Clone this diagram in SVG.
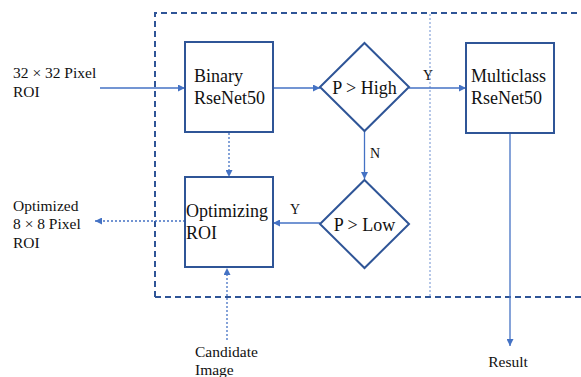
<svg xmlns="http://www.w3.org/2000/svg" width="581" height="377" viewBox="0 0 581 377">
<style>
.box{fill:#fff;stroke:#2F5597;stroke-width:2}
.t{font-family:"Liberation Serif","Times New Roman",serif;font-size:18px;fill:#111}
.s{font-family:"Liberation Serif","Times New Roman",serif;font-size:15.5px;fill:#111}
.yn{font-family:"Liberation Serif","Times New Roman",serif;font-size:14px;fill:#111}
.c{stroke:#4472C4;stroke-width:1.3;fill:none}
.d{stroke:#4472C4;stroke-width:1.3;fill:none;stroke-dasharray:2 2}
</style>
<defs>
<marker id="ah" viewBox="0 0 10 10" refX="10" refY="5" markerWidth="7" markerHeight="7" markerUnits="userSpaceOnUse" orient="auto">
<path d="M0,0 L10,5 L0,10 z" fill="#4472C4"/>
</marker>
</defs>
<rect width="581" height="377" fill="#fff"/>
<g id="frame">
<path d="M155,297 V13 H581" fill="none" stroke="#2F5597" stroke-width="2" stroke-dasharray="6 4"/>
<path d="M155,297 H581" fill="none" stroke="#2F5597" stroke-width="2" stroke-dasharray="6 4"/>
<line x1="430" y1="14" x2="430" y2="296" stroke="#8FAADC" stroke-width="1.3" stroke-dasharray="2 2"/>
</g>
<g id="connectors">
<line class="c" x1="100" y1="88" x2="185" y2="88" marker-end="url(#ah)"/>
<line class="c" x1="273" y1="88" x2="320" y2="88" marker-end="url(#ah)"/>
<line class="c" x1="409" y1="88" x2="466" y2="88" marker-end="url(#ah)"/>
<line class="c" x1="364.5" y1="131" x2="364.5" y2="179" marker-end="url(#ah)"/>
<line class="c" x1="320" y1="223" x2="273" y2="223" marker-end="url(#ah)"/>
<line class="d" x1="229" y1="133" x2="229" y2="177" marker-end="url(#ah)"/>
<line class="d" x1="185" y1="221" x2="95" y2="221" marker-end="url(#ah)"/>
<line class="d" x1="227" y1="340" x2="227" y2="268" marker-end="url(#ah)"/>
<line class="c" x1="510" y1="133" x2="510" y2="346" marker-end="url(#ah)"/>
<text class="yn" x="423" y="80">Y</text>
<text class="yn" x="370" y="158">N</text>
<text class="yn" x="290" y="214">Y</text>
</g>
<g id="binary">
<rect class="box" x="185" y="42" width="88" height="90"/>
<text class="t" x="194" y="82">Binary</text>
<text class="t" x="194" y="104">RseNet50</text>
</g>
<g id="optimizing">
<rect class="box" x="185" y="177" width="88" height="90"/>
<text class="t" x="186" y="217">Optimizing</text>
<text class="t" x="186" y="239">ROI</text>
</g>
<g id="phigh">
<polygon class="box" points="364.5,43 409,87 364.5,131 320,87"/>
<text class="t" x="364.5" y="94" text-anchor="middle">P &gt; High</text>
</g>
<g id="plow">
<polygon class="box" points="364.5,180 409,224 364.5,268 320,224"/>
<text class="t" x="364.5" y="231" text-anchor="middle">P &gt; Low</text>
</g>
<g id="multiclass">
<rect class="box" x="466" y="43" width="88" height="90"/>
<text class="t" x="471" y="82">Multiclass</text>
<text class="t" x="471" y="104">RseNet50</text>
</g>
<g id="input">
<text class="s" x="13" y="78">32 × 32 Pixel</text>
<text class="s" x="13" y="97">ROI</text>
</g>
<g id="output">
<text class="s" x="13" y="211">Optimized</text>
<text class="s" x="13" y="229">8 × 8 Pixel</text>
<text class="s" x="13" y="248">ROI</text>
</g>
<g id="candidate">
<text class="s" x="195" y="357">Candidate</text>
<text class="s" x="195" y="375">Image</text>
</g>
<g id="result">
<text class="s" x="508" y="367" text-anchor="middle">Result</text>
</g>
</svg>
